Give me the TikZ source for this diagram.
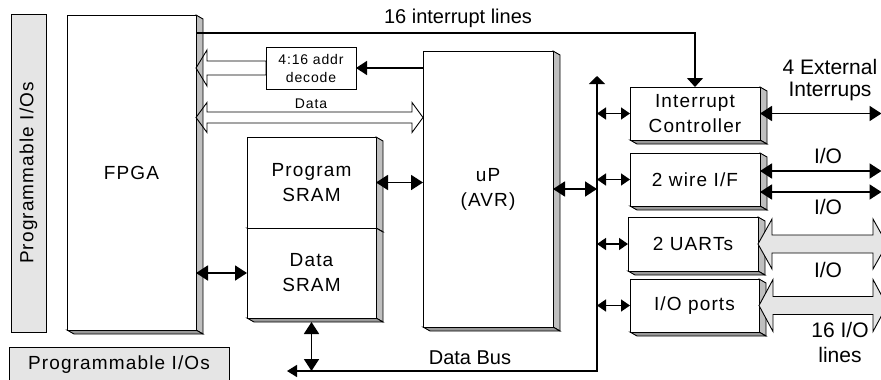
\documentclass[tikz,border=0pt]{standalone}
\usepackage{fontspec}
\setmainfont{Liberation Sans}
\newfontfamily\boxfont[LetterSpace=6]{Liberation Sans}
\usetikzlibrary{calc,arrows.meta,backgrounds}

\newcommand\fatarrow[6]{\draw[#1] (#2) -- ($(#2)+(#6,-#5)$) -- ($(#2)+(#6,-#4)$) -- ($(#3)+(-#6,-#4)$) -- ($(#3)+(-#6,-#5)$) -- (#3) -- ($(#3)+(-#6,#5)$) -- ($(#3)+(-#6,#4)$) -- ($(#2)+(#6,#4)$) -- ($(#2)+(#6,#5)$) -- cycle;}

\begin{document}
\begin{tikzpicture}[x=1pt,y=-1pt,
  blk/.style={draw,fill=white,line width=0.9pt,inner sep=0pt,outer sep=0pt,align=center,font=\boxfont\fontsize{19}{25}\selectfont},
  pio/.style={blk,fill=black!10},
  lbl/.style={align=center,font=\fontsize{20}{25}\selectfont},
  sidelbl/.style={align=center,font=\fontsize{21}{25}\selectfont},
  sideface/.style={draw,fill=black!25,line width=0.9pt},
  baseface/.style={draw,fill=black!40,line width=0.9pt},
  link/.style={line width=1.8pt,{Triangle[length=12pt,width=15pt]}-{Triangle[length=12pt,width=15pt]}},
  tap/.style={line width=1.5pt,{Triangle[length=9pt,width=12pt]}-{Triangle[length=9pt,width=12pt]}},
  fat/.style={line width=0.9pt},
  bus/.style={line width=1.5pt}]
\useasboundingbox (0,0) rectangle (881,380);
\clip (0,0) rectangle (881,380);

\node[pio,minimum width=318,minimum height=35,rotate=90] (pioL) at (28.5,173) {Programmable I/Os};
\node[pio,minimum width=220,minimum height=35] (pioB) at (119,364.5) {Programmable I/Os};

\node[blk,minimum width=129,minimum height=315] (fpga) at (131.5,172.5) {FPGA};
\node[blk,minimum width=90,minimum height=42,font=\boxfont\fontsize{14}{18}\selectfont] (dec) at (311,68) {4:16 addr\\decode};
\node[blk,minimum width=130,minimum height=276] (up) at (488,189) {uP\\(AVR)};
\node[blk,minimum width=129,minimum height=91] (psram) at (311.5,182.5) {Program\\SRAM};
\node[blk,minimum width=129,minimum height=90] (dsram) at (311.5,273) {Data\\SRAM};
\node[blk,minimum width=130,minimum height=53] (intc) at (695,113.5) {Interrupt\\Controller};
\node[blk,minimum width=130,minimum height=53] (twi) at (695,179.5) {2 wire I/F};
\node[blk,minimum width=130,minimum height=54] (uart) at (693,244) {2 UARTs};
\node[blk,minimum width=129,minimum height=53] (iop) at (694.5,305.5) {I/O ports};

\begin{scope}[on background layer]
\foreach \n in {fpga,up,psram,dsram,intc,twi,uart,iop}{
  \filldraw[sideface] (\n.north east) -- ++(7,4) -- ($(\n.south east)+(7,4)$) -- (\n.south east) -- cycle;
  \filldraw[baseface] (\n.south west) -- ($(\n.south west)+(7,4)$) -- ($(\n.south east)+(7,4)$) -- (\n.south east) -- cycle;
}
\end{scope}

\coordinate (irq) at ($(fpga.north east)+(0,18)$);
\coordinate (busT) at (597,76);
\coordinate (busC) at (597,371);
\coordinate (busL) at (287,371);
\coordinate (edge) at (881.5,0);
\coordinate (fatedge) at (887,0);
\coordinate (decL) at (fpga.east |- dec.west);
\coordinate (dataL) at ($(fpga.north east)+(0,102.5)$);
\coordinate (dataR) at (up.west |- dataL);
\coordinate (twiA) at ($(twi.east)+(0,-8.5)$);
\coordinate (twiB) at ($(twi.east)+(0,12.5)$);
\coordinate (uartR) at (fatedge |- uart.east);
\coordinate (iopR) at (fatedge |- iop.east);

\draw[bus,-{Triangle[length=9pt,width=16pt]}] (irq) -| (intc.north);
\draw[bus,{Triangle[length=8pt,width=16pt]}-{Triangle[length=10pt,width=12pt]}] (busT) -- (busC) -- (busL);
\draw[bus,-{Triangle[length=11pt,width=14pt]}] (up.west |- dec.east) -- (dec.east);
\draw[link] (psram.east) -- (up.west |- psram.east);
\draw[link] (fpga.east |- dsram.west) -- (dsram.west);
\draw[link] (up.east) -- (busC |- up.east);
\draw[link] ($(dsram.south)+(0,4)$) -- (dsram.south |- busC);
\foreach \n in {intc,twi,uart,iop}
  \draw[tap] (busC |- \n.west) -- (\n.west);
\draw[link] (intc.east) -- (edge |- intc.east);
\draw[link] (twiA) -- (edge |- twiA);
\draw[link] (twiB) -- (edge |- twiB);

\draw[fat] (decL) -- ($(decL)+(11,-18)$) -- ($(decL)+(11,-7)$) -- ($(dec.west)+(0,-7)$) -- ($(dec.west)+(0,7)$) -- ($(decL)+(11,7)$) -- ($(decL)+(11,18)$) -- cycle;
\fatarrow{fat}{dataL}{dataR}{5.5}{15}{11}
\fatarrow{fat,fill=black!10}{uart.east}{uartR}{9}{25}{14}
\fatarrow{fat,fill=black!10}{iop.east}{iopR}{9}{26}{14}

\node[lbl] (irqlbl) at (458,18) {16 interrupt lines};
\node[lbl,font=\boxfont\fontsize{14}{18}\selectfont] (datalbl) at (311,104) {Data};
\node[lbl] (buslbl) at (470,358) {Data Bus};
\node[sidelbl,font=\fontsize{21}{21.5}\selectfont] (extlbl) at (830,80) {4 External\\Interrups};
\node[sidelbl] (io1) at (828,156) {I/O};
\node[sidelbl] (io2) at (828,207) {I/O};
\node[sidelbl] (io3) at (828,270) {I/O};
\node[sidelbl] (io4) at (840,342) {16 I/O\\lines};
\end{tikzpicture}
\end{document}
